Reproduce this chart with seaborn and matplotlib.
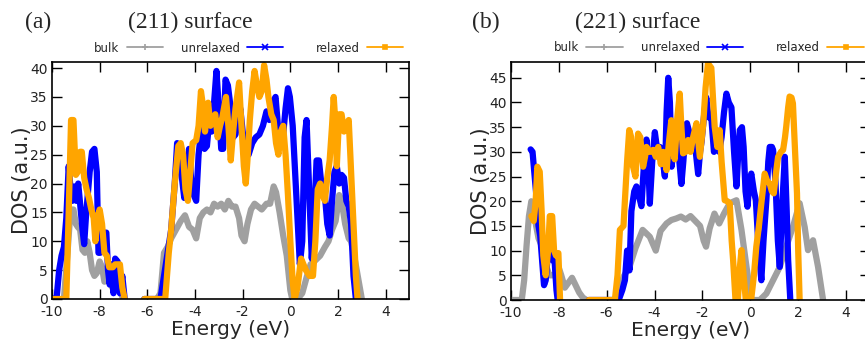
import numpy as np
import pandas as pd
import matplotlib
matplotlib.use("Agg")
import matplotlib.pyplot as plt
from matplotlib.lines import Line2D
from matplotlib.legend import Legend
import seaborn as sns

nan = np.nan

# ---------------- data (energy in eV, DOS in a.u.) ----------------
# Panel (a): (211) surface
a_bulk_e = [-9.5, -9.35, -9.22, -9.1, -9.0, -8.92, -8.82, -8.72, -8.62, -8.52, -8.42, -8.32, -8.22, -8.12, -8.0, -7.9, -7.8, -7.7, -7.6, -7.48, -7.38, -7.25, -7.12, -7.0, nan,
            -5.6, -5.45, -5.3, -5.15, -5.0, -4.8, -4.6, -4.42, -4.25, -4.1, -3.95, -3.8, -3.65, -3.5, -3.35, -3.2, -3.05, -2.9, -2.75, -2.6, -2.45, -2.3, -2.15, -2.05, -1.92, -1.8, -1.65, -1.5, -1.35, -1.2, -1.0, -0.85, -0.7, -0.6, -0.45, -0.3, -0.15, 0.0, 0.08, 0.3, 0.5, 0.7, 0.85, 1.0, 1.25, 1.45, 1.6, 1.75, 1.9, 2.05, 2.15, 2.3, 2.45, 2.55, 2.7, 2.85, 3.0]
a_bulk_dos = [0, 8, 15.5, 15.5, 13, 12.5, 12, 8.5, 8, 10, 8, 5, 4, 4.5, 6.5, 5.5, 3, 3.5, 3.5, 2, 3, 1.5, 1, 0, nan,
              0, 1, 8, 9, 10.5, 12, 13.5, 14.5, 12.5, 12, 10.5, 14, 15, 15.5, 15, 16.5, 16, 16.5, 15.5, 17, 16, 16, 14, 11, 10, 13, 15.5, 16.5, 16, 15.5, 16.5, 16.5, 19.5, 18.5, 15, 11, 7.5, 1.5, 0, 0, 1, 4, 6, 6.5, 7.5, 9, 10, 12, 13.5, 18, 17, 13, 10.5, 10, 7, 3.5, 0]

a_unrel_e = [-9.9, -9.8, -9.7, -9.6, -9.5, -9.4, -9.3, -9.22, -9.15, -9.05, -8.98, -8.9, -8.82, -8.72, -8.65, -8.58, -8.5, -8.42, -8.32, -8.22, -8.12, -8.05, -7.98, -7.85, -7.72, -7.65, -7.58, -7.5, -7.42, -7.35, -7.25, -7.15, -7.05, -6.95, nan,
             -6.13, -5.45, -5.3, -5.15, -5.0, -4.85, -4.75, -4.65, -4.55, -4.45, -4.35, -4.25, -4.15, -4.05, -3.95, -3.85, -3.72, -3.6, -3.5, -3.4, -3.3, -3.2, -3.1, -3.0, -2.9, -2.82, -2.72, -2.62, -2.5, -2.4, -2.3, -2.2, -2.1, -2.0, -1.9, -1.75, -1.6, -1.45, -1.3, -1.15, -1.0, -0.88, -0.75, -0.62, -0.5, -0.4, -0.3, -0.2, -0.1, -0.02, 0.1, 0.2, 0.3, 0.4, 0.5, 0.6, 0.68, 0.78, 0.9, 1.0, 1.1, 1.2, 1.3, 1.45, 1.55, 1.65, 1.75, 1.85, 1.95, 2.05, 2.15, 2.25, 2.35, 2.45, 2.55, 2.65, 2.75]
a_unrel_dos = [0, 0.5, 5, 7.5, 9, 14, 23, 19, 17, 19.5, 17, 20, 16.5, 12, 9.5, 14, 18, 22, 25.5, 26, 22, 8, 8, 11.5, 11.5, 5, 2.5, 6, 1, 7, 6.5, 1, 4, 0, nan,
               0, 0, 4, 8, 12, 20, 27, 25, 21, 17.5, 19, 26, 20, 18, 17, 25, 30, 26, 26.5, 31, 29, 34, 39.5, 33, 26, 26, 38, 37, 33, 28, 28.5, 31, 33, 29, 26, 25, 27, 28, 28.5, 30, 32.5, 31, 34, 35, 29, 29, 28.5, 33, 36.5, 35, 30, 22, 14, 6, 10, 28, 31, 20, 7, 14, 24, 24, 20, 18, 13, 11, 17, 22, 23, 20, 21.5, 21, 17, 16, 13, 4, 0]

a_rel_e = [-10.05, -9.4, -9.3, -9.2, -9.1, -9.0, -8.92, -8.82, -8.75, -8.65, -8.55, -8.45, -8.35, -8.25, -8.18, -8.1, -8.0, -7.9, -7.8, -7.7, -7.6, -7.45, -7.35, -7.15, -7.05, -6.95, nan,
           -6.13, -5.25, -5.1, -5.0, -4.85, -4.7, -4.6, -4.5, -4.4, -4.3, -4.2, -4.1, -3.95, -3.85, -3.75, -3.65, -3.58, -3.45, -3.35, -3.25, -3.15, -3.05, -2.95, -2.85, -2.7, -2.6, -2.5, -2.4, -2.3, -2.15, -2.05, -1.95, -1.87, -1.8, -1.7, -1.6, -1.5, -1.4, -1.3, -1.2, -1.1, -1.0, -0.92, -0.8, -0.7, -0.6, -0.5, -0.4, -0.3, -0.2, -0.1, 0.0, 0.1, 0.18, 0.3, 0.45, 0.55, 0.65, 0.8, 0.95, 1.05, 1.15, 1.25, 1.35, 1.45, 1.55, 1.65, 1.75, 1.82, 1.9, 1.95, 2.05, 2.15, 2.25, 2.35, 2.45, 2.55, 2.65, 2.75, 2.82]
a_rel_dos = [0, 0, 15, 31, 31, 21.5, 22, 25.5, 25.5, 21, 19, 17.5, 15.5, 14, 10, 14, 15.5, 13, 8, 7.5, 5.5, 5.5, 6, 6, 2, 0, nan,
             0, 0, 8, 12, 20, 26.5, 27, 25, 19, 17, 22, 27, 27.5, 30, 36, 33, 29, 34, 30, 31, 32, 28, 30, 31.5, 35, 30, 24, 29, 33, 37.5, 30, 23, 20, 24, 31, 36, 39.5, 37, 35, 36, 40.5, 38, 35, 32, 31, 27, 25, 29, 30, 25, 18, 10, 3, 0, 2, 7, 6, 5, 4, 4, 10, 19, 20, 18, 17, 21, 24, 30, 35, 30, 23, 32, 32, 29, 30, 31, 22, 13, 4, 0]

# Panel (b): (221) surface
b_bulk_e = [-10.0, -9.55, -9.45, -9.35, -9.25, -9.15, -9.05, -8.95, -8.85, -8.72, -8.6, -8.5, -8.4, -8.25, -8.1, -8.0, -7.9, -7.75, -7.6, -7.45, -7.3, -7.15, -7.0, -6.85, nan,
            -5.6, -5.5, -5.3, -5.05, -4.8, -4.5, -4.2, -3.95, -3.75, -3.5, -3.3, -3.1, -2.9, -2.7, -2.5, -2.3, -2.1, -1.95, -1.85, -1.7, -1.5, -1.3, -1.1, -0.86, -0.58, -0.37, -0.16, 0.04, 0.4, 0.67, 0.95, 1.23, 1.5, 1.78, 2.06, 2.27, 2.41, 2.62, 2.83, 3.04]
b_bulk_dos = [0, 0, 4, 11, 17, 20, 18, 15, 12.5, 11, 8, 6.5, 5, 5, 5.5, 6.5, 5, 2.5, 3.5, 4.5, 3, 1.5, 0.5, 0, nan,
              0, 0.7, 4.7, 6.7, 10.5, 14.2, 12.8, 10, 14, 15.5, 16.2, 16.5, 16.9, 16.3, 17, 16, 15, 12, 10.8, 14.5, 17.5, 15.5, 17.5, 19.6, 20.2, 14.2, 6.7, 0, 0, 1.3, 4, 6.7, 10.8, 14.8, 19.6, 14.8, 10.1, 12.1, 6.7, 0]

b_unrel_e = [-9.18, -9.1, -9.02, -8.92, -8.85, -8.78, -8.7, -8.62, -8.55, -8.48, -8.4, -8.32, -8.25, -8.18, -8.1, -8.05, nan,
             -6.75, -5.5, -5.35, -5.24, -5.15, -5.05, -4.97, -4.85, -4.76, -4.65, -4.55, -4.45, -4.34, -4.25, -4.2, -4.1, -3.99, -3.88, -3.78, -3.68, -3.57, -3.5, -3.43, -3.36, -3.29, -3.2, -3.11, -3.0, -2.88, -2.8, -2.74, -2.65, -2.5, -2.39, -2.28, -2.18, -2.1, -2.04, -1.92, -1.84, -1.75, -1.63, -1.52, -1.42, -1.3, -1.2, -1.1, -1.0, -0.9, -0.79, -0.68, -0.58, -0.5, -0.44, -0.35, -0.28, -0.2, -0.12, -0.03, 0.04, 0.15, 0.23, 0.35, 0.46, 0.55, 0.67, 0.75, 0.81, 0.9, 0.95, 1.05, 1.15, 1.23, 1.32, 1.44, 1.52, 1.58, 1.67]
b_unrel_dos = [30.5, 30, 25.5, 20, 15, 13, 8, 3, 4, 8, 13, 11, 8, 8, 2, 0, nan,
               0, 0, 2, 4, 10, 6, 18, 22, 23, 21, 19, 27, 32.5, 26, 19.5, 28, 34, 30, 31, 29, 25, 38, 45, 40, 27, 31, 34, 30, 23.5, 28, 32, 35.8, 33, 32.5, 30, 25.5, 30, 32, 38, 41, 37, 37, 30, 31.5, 30, 33, 38, 41.8, 40, 39, 30, 23, 30, 34.4, 35, 31, 22, 18.9, 24, 25.6, 22, 20.2, 10, 4, 12, 20.2, 28, 31, 31, 30.4, 24, 12, 6.7, 18, 29, 18, 8.1, 0]

b_rel_e = [-9.15, -9.05, -8.97, -8.9, -8.8, -8.72, -8.65, -8.55, -8.45, -8.38, -8.28, -8.2, -8.12, -8.02, -7.95, nan,
           -6.75, -5.66, -5.55, -5.45, -5.3, -5.24, -5.15, -5.06, -4.98, -4.9, -4.8, -4.69, -4.6, -4.48, -4.4, -4.34, -4.2, -4.06, -3.95, -3.85, -3.74, -3.64, -3.5, -3.4, -3.3, -3.22, -3.16, -3.05, -2.95, -2.88, -2.81, -2.7, -2.6, -2.5, -2.39, -2.25, -2.11, -1.97, -1.87, -1.77, -1.63, -1.55, -1.49, -1.38, -1.28, -1.2, -1.07, -0.96, -0.86, -0.78, -0.72, -0.62, -0.52, -0.45, -0.37, -0.28, -0.19, 0.04, 0.15, 0.25, 0.36, 0.46, 0.6, 0.71, 0.81, 0.9, 0.98, 1.08, 1.16, 1.28, 1.37, 1.45, 1.5, 1.58, 1.64, 1.72, 1.78, 1.87, 1.95, 2.0, 2.06]
b_rel_dos = [17, 16, 20, 27, 26, 18, 9, 5, 10, 17, 17, 10, 9, 9.5, 0, nan,
             0, 0, 5, 14.2, 15, 20.2, 28, 34.4, 33, 27, 25, 33.7, 33, 27, 29, 31, 30, 30.4, 29, 31, 27.5, 30, 26.3, 32, 36.4, 30, 28.5, 37, 41.8, 35, 29.7, 30, 32.4, 30, 33, 35.8, 29, 35.5, 43, 47.9, 47, 40, 35.1, 31, 34.4, 28, 20.2, 20, 19.6, 12, 8.1, 0, 0, 6, 10.1, 5, 0, 0.3, 5, 10.8, 15, 19.6, 25.6, 24, 23.6, 22, 21.6, 26, 29, 30, 30.4, 33, 35.1, 39, 41.2, 41, 39.8, 30, 21.6, 10, 0]

series_labels = ["bulk", "unrelaxed", "relaxed"]
series_colors = ["#a0a0a0", "#0000ff", "#ffa500"]
series_markers = ["+", "x", "s"]
panel_tags = ["(a)", "(b)"]
panel_titles = ["(211) surface", "(221) surface"]
x_ticks = [-10, -8, -6, -4, -2, 0, 2, 4]
a_y_ticks = [0, 5, 10, 15, 20, 25, 30, 35, 40]
b_y_ticks = [0, 5, 10, 15, 20, 25, 30, 35, 40, 45]


def frame(e, d, label):
    e = np.asarray(e, float)
    d = np.asarray(d, float)
    seg = np.cumsum(np.isnan(e))
    df = pd.DataFrame({"energy": e, "dos": d, "seg": seg, "series": label})
    return df.dropna()


panels = [
    [(a_bulk_e, a_bulk_dos), (a_unrel_e, a_unrel_dos), (a_rel_e, a_rel_dos)],
    [(b_bulk_e, b_bulk_dos), (b_unrel_e, b_unrel_dos), (b_rel_e, b_rel_dos)],
]

sns.set_style("ticks")
plt.rcParams["font.family"] = ["DejaVu Sans"]
plt.rcParams["lines.solid_joinstyle"] = "round"

W, H = 865, 339
fig = plt.figure(figsize=(W / 100, H / 100), dpi=100)

axes_px = [(52, 299, 357.5, 237), (511, 300, 359, 238)]
ylims = [41.05, 48.2]
yticks_list = [a_y_ticks, b_y_ticks]

for i, (left, bottom, w, h) in enumerate(axes_px):
    ax = fig.add_axes([left / W, (H - bottom) / H, w / W, h / H])
    for (e, d), lab, col in zip(panels[i], series_labels, series_colors):
        df = frame(e, d, lab)
        sns.lineplot(data=df, x="energy", y="dos", units="seg", estimator=None,
                     sort=False, color=col, linewidth=4.5, ax=ax, legend=False)
    ax.set_xlim(-10, 5)
    ax.set_ylim(0, ylims[i])
    ax.set_xticks(x_ticks)
    ax.set_xticklabels([str(t) for t in x_ticks])
    ax.set_yticks(yticks_list[i])
    ax.tick_params(direction="in", length=7, width=1, top=True, right=True,
                   labelsize=10, colors="black", labelcolor="#222222")
    ax.tick_params(axis="x", pad=4.5)
    ax.tick_params(axis="y", pad=3)
    for sp in ax.spines.values():
        sp.set_linewidth(1.2)
        sp.set_color("black")
        sp.set_visible(True)
    ax.set_xlabel("Energy (eV)", fontsize=14.5, labelpad=0.5)
    ax.set_ylabel("DOS (a.u.)", fontsize=15, labelpad=-1)

    # legend entries, right-aligned like the original key
    ends = [0.311, 0.647, 0.983]
    for j, (lab, col, mk) in enumerate(zip(series_labels, series_colors, series_markers)):
        h_ = Line2D([], [], color=col, lw=1.3, marker=mk, markersize=4 if mk != "s" else 3,
                    markeredgewidth=1.2)
        leg = Legend(ax, [h_], [lab], loc="center right", bbox_to_anchor=(ends[j], 1.059),
                     bbox_transform=ax.transAxes, frameon=False, markerfirst=False,
                     fontsize=8.5, handlelength=3.1, handletextpad=0.6, borderpad=0,
                     borderaxespad=0, numpoints=1)
        ax.add_artist(leg)

    # panel tags and titles
    tag_x = [25, 472][i]
    title_x = [128, 575][i]
    fig.text(tag_x / W, 1 - 22 / H, panel_tags[i], family="Liberation Serif", fontsize=17,
             va="center", ha="left")
    fig.text(title_x / W, 1 - 22 / H, panel_titles[i], family="Liberation Serif", fontsize=17,
             va="center", ha="left")

fig.savefig("out.png", dpi=100)
